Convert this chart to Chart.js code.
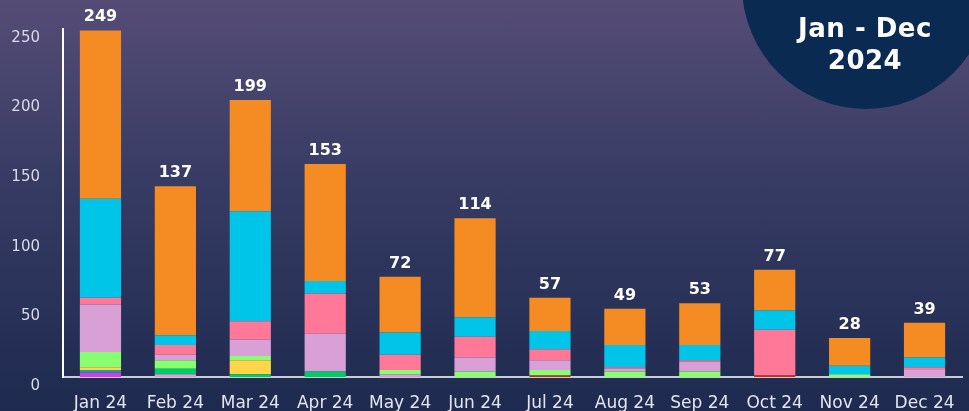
<!DOCTYPE html>
<html>
<head>
<meta charset="utf-8">
<script src="https://cdn.jsdelivr.net/npm/chart.js@4.4.1/dist/chart.umd.min.js"></script>
<style>
  html, body { margin: 0; padding: 0; }
  body {
    width: 969px; height: 411px; overflow: hidden; position: relative;
    background: linear-gradient(to bottom, #554c76 0%, #363b63 45%, #1e2a4f 100%);
    font-family: "DejaVu Sans", sans-serif;
  }
  #badge {
    position: absolute; left: 742px; top: -139px;
    width: 248px; height: 248px; border-radius: 50%;
    background: #0b2a52; z-index: 2;
  }
  #badgeText {
    position: absolute; left: 765px; top: 12px; width: 200px;
    text-align: center; color: #fff; font-weight: bold;
    font-size: 26px; line-height: 32px; z-index: 3; letter-spacing: 0.5px;
  }
  canvas { position: absolute; left: 0; top: 0; }
</style>
</head>
<body>
<div id="badge"></div>
<div id="badgeText">Jan - Dec<br>2024</div>
<canvas id="barChart" width="969" height="411"></canvas>
<script>
// months on the x axis
const months = ['Jan 24', 'Feb 24', 'Mar 24', 'Apr 24', 'May 24', 'Jun 24',
                'Jul 24', 'Aug 24', 'Sep 24', 'Oct 24', 'Nov 24', 'Dec 24'];

// stacked segments, bottom to top
const redVals     = [0, 0, 0, 0, 0, 0, 1, 0, 0, 1, 0, 0];
const magentaVals = [3, 0, 0, 0, 0, 0, 0, 0, 0, 0, 0, 0];
const otherVals   = [0, 2, 0, 0, 2, 0, 0, 0, 0, 0, 0, 0];
const tealVals    = [2, 0, 0, 0, 0, 0, 0, 0, 0, 0, 0, 0];
const darkGreenVals  = [0, 4, 2, 4, 0, 0, 0, 0, 0, 0, 0, 0];
const yellowVals     = [2, 0, 10, 0, 0, 0, 0, 0, 0, 0, 0, 0];
const lightGreenVals = [11, 6, 3, 0, 3, 4, 4, 4, 4, 0, 2, 0];
const lilacVals  = [34, 4, 12, 27, 0, 10, 7, 2, 7, 0, 0, 5];
const pinkVals   = [5, 7, 13, 29, 11, 15, 8, 1, 1, 33, 0, 2];
const cyanVals   = [71, 7, 79, 9, 16, 14, 13, 16, 11, 14, 6, 7];
const orangeVals = [121, 107, 80, 84, 40, 71, 24, 26, 30, 29, 20, 25];

const yTicks = [0, 50, 100, 150, 200, 250];

const series = [
    { label: 'Red', data: redVals, backgroundColor: '#cf2a12' },
    { label: 'Magenta', data: magentaVals, backgroundColor: '#d63ce6' },
    { label: 'Other', data: otherVals, backgroundColor: '#d9a0d8' },
    { label: 'Teal', data: tealVals, backgroundColor: '#17a2aa' },
    { label: 'Dark Green', data: darkGreenVals, backgroundColor: '#00cc6b' },
    { label: 'Yellow', data: yellowVals, backgroundColor: '#ffd64a' },
    { label: 'Light Green', data: lightGreenVals, backgroundColor: '#88ff70' },
    { label: 'Lilac', data: lilacVals, backgroundColor: '#d9a0d8' },
    { label: 'Pink', data: pinkVals, backgroundColor: '#ff7898' },
    { label: 'Cyan', data: cyanVals, backgroundColor: '#00c5e9' },
    { label: 'Orange', data: orangeVals, backgroundColor: '#f58b23' }
];

// totals above each stack
const totalsPlugin = {
    id: 'totals',
    afterDatasetsDraw(chart) {
        const ctx = chart.ctx;
        ctx.save();
        ctx.fillStyle = '#ffffff';
        ctx.font = 'bold 16px "DejaVu Sans"';
        ctx.textAlign = 'center';
        ctx.textBaseline = 'alphabetic';
        months.forEach((m, i) => {
            const total = chart.data.datasets.reduce((s, ds) => s + ds.data[i], 0);
            const x = chart.scales.x.getPixelForValue(i);
            const y = chart.scales.y.getPixelForValue(total);
            ctx.fillText(String(total), x, y - 9);
        });
        ctx.restore();
    }
};

const ctx = document.getElementById('barChart').getContext('2d');
new Chart(ctx, {
    type: 'bar',
    data: {
        labels: months,
        datasets: series.map(s => ({ ...s, barPercentage: 0.55, categoryPercentage: 1.0 }))
    },
    options: {
        responsive: false,
        animation: false,
        layout: { padding: { top: 29, right: 7, left: 0, bottom: 0 } },
        plugins: { legend: { display: false }, tooltip: { enabled: false } },
        scales: {
            x: {
                stacked: true,
                grid: { display: false },
                border: { display: true, color: '#c9cbd6', width: 2 },
                ticks: { color: '#e4e4ec', font: { family: 'DejaVu Sans', size: 17 }, padding: 8 },
                afterFit(scale) { scale.height = 34; }
            },
            y: {
                stacked: true,
                min: 0,
                max: 250,
                grid: { display: false },
                border: { display: true, color: '#ffffff', width: 2 },
                afterBuildTicks(scale) { scale.ticks = yTicks.map(v => ({ value: v })); },
                ticks: { color: '#d9dae4', font: { family: 'DejaVu Sans', size: 15 }, padding: 15, labelOffset: 9 },
                afterFit(scale) { scale.width = 63; }
            }
        }
    },
    plugins: [totalsPlugin]
});
</script>
</body>
</html>
